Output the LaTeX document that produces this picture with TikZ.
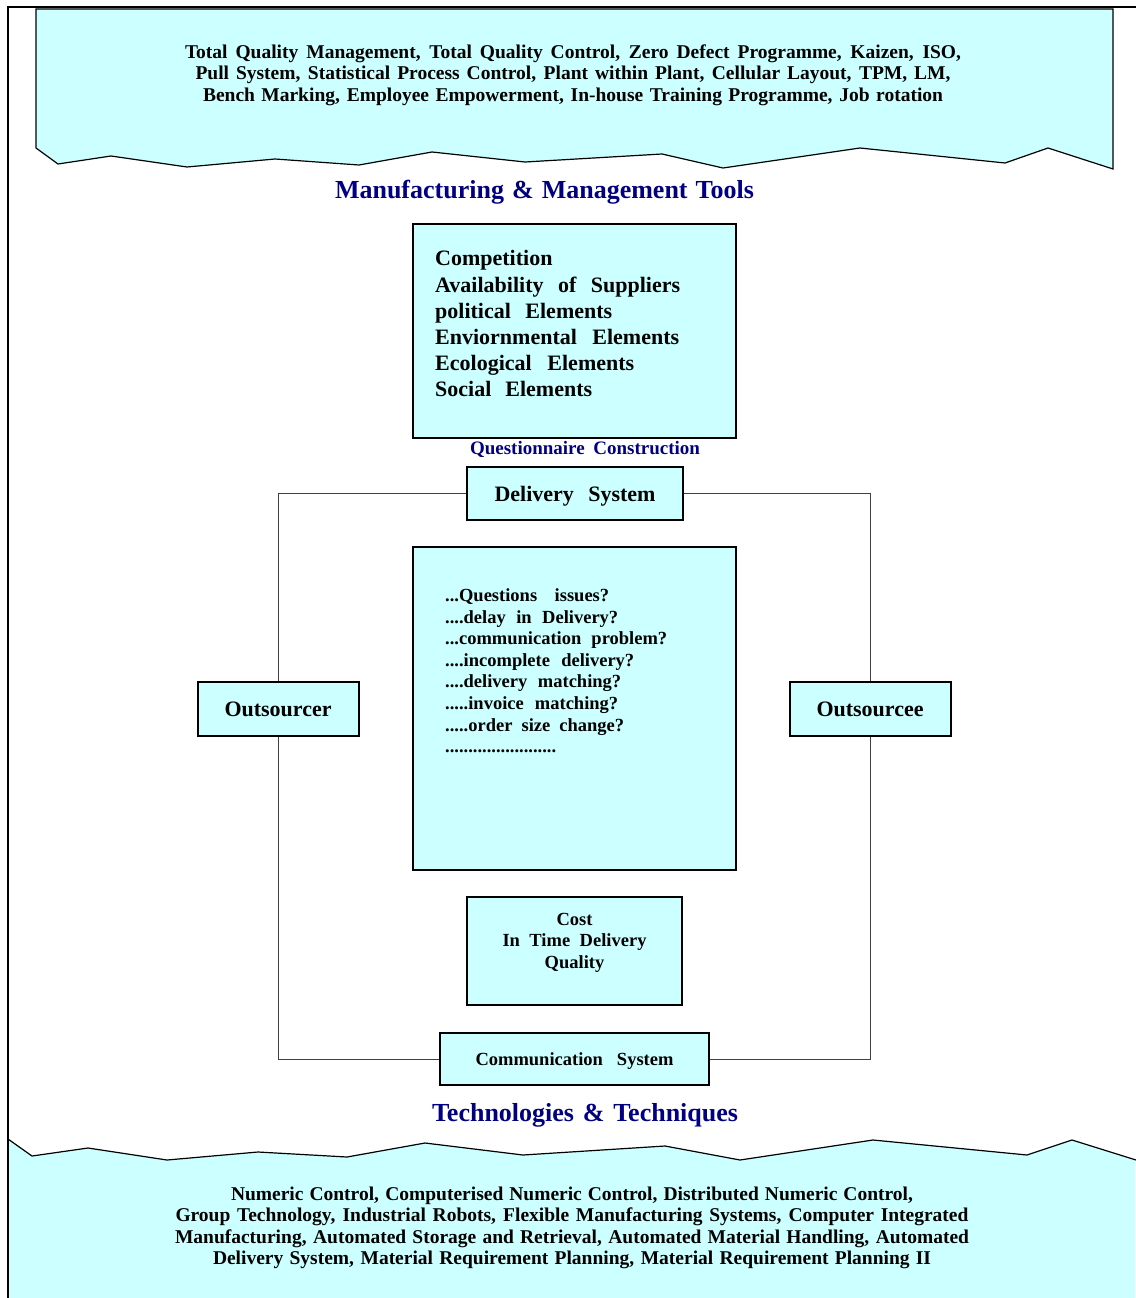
\documentclass[tikz,border=0pt]{standalone}
\usepackage{fontspec}
\setmainfont{Liberation Serif}
\definecolor{cyanfill}{HTML}{CCFFFF}
\definecolor{navy}{HTML}{000080}
\newcommand\sline[2]{\makebox[#1pt][s]{#2}}
\begin{document}
\begin{tikzpicture}[x=1pt,y=-1pt,
  box/.style={draw=black, line width=1.2pt, fill=cyanfill, inner sep=0pt},
  link/.style={draw=black!75, line width=0.9pt},
  banner/.style={fill=cyanfill},
  edge/.style={draw=black, line width=1.2pt, line join=miter},
  bantext/.style={font=\bfseries\fontsize{19.5}{21.5}\selectfont, align=center, inner sep=0pt},
  title/.style={font=\bfseries\fontsize{26}{28}\selectfont, text=navy, inner sep=0pt},
  bigtext/.style={font=\bfseries\fontsize{22}{26.2}\selectfont, inner sep=0pt},
  midtext/.style={font=\bfseries\fontsize{18.5}{21.6}\selectfont, inner sep=0pt}]
\useasboundingbox (0,0) rectangle (1135,1298);
% top banner
\path[banner,edge] (36,9) -- (1113,9) -- (1113,169) -- (1048,148) -- (1005,163) -- (860,148)
  -- (723,168) -- (662,154) -- (525,162) -- (432,152) -- (359,165) -- (275,159)
  -- (187,167) -- (111,156) -- (58,164) -- (36,148) -- cycle;
% bottom banner
\fill[banner] (8,1139) -- (32,1156) -- (88,1148) -- (167,1160) -- (258,1152) -- (347,1157)
  -- (425,1143) -- (523,1155) -- (665,1146) -- (740,1160) -- (873,1140) -- (1027,1155)
  -- (1072,1140) -- (1135,1160) -- (1135,1300) -- (8,1300) -- cycle;
\draw[edge] (8,1139) -- (32,1156) -- (88,1148) -- (167,1160) -- (258,1152) -- (347,1157)
  -- (425,1143) -- (523,1155) -- (665,1146) -- (740,1160) -- (873,1140) -- (1027,1155)
  -- (1072,1140) -- (1136,1160);
% frame
\draw[line width=2.2pt] (8,1300) -- (8,7) -- (1136,7);

% banner texts
\node[bantext] (toptext) at (573,75) {\sline{776}{Total Quality Management, Total Quality Control,  Zero Defect Programme, Kaizen, ISO,}\\
\sline{755}{Pull System, Statistical Process Control, Plant within Plant, Cellular Layout, TPM, LM,}\\
\sline{740}{Bench Marking, Employee Empowerment, In-house Training Programme, Job rotation}};
\node[bantext] (bottext) at (572,1228) {\sline{682}{Numeric Control, Computerised Numeric Control, Distributed Numeric Control,}\\
\sline{793}{Group Technology, Industrial Robots, Flexible Manufacturing Systems, Computer Integrated}\\
\sline{794}{Manufacturing, Automated Storage and Retrieval, Automated Material Handling, Automated}\\
\sline{718}{Delivery System, Material Requirement Planning, Material Requirement Planning II}};

% titles
\node[title] (mmt) at (544.5,192) {\sline{419}{Manufacturing \& Management Tools}};
\node[title] (tt) at (585,1115) {\sline{306}{Technologies \& Techniques}};
\node[title, font=\bfseries\fontsize{19}{21}\selectfont] (qc) at (585,449.5) {\sline{230}{Questionnaire Construction}};

% environment box
\node[box, minimum width=323pt, minimum height=214pt] (env) at (574.5,331) {};
\node[bigtext, anchor=north west, align=left] (envtxt) at (435,250.5) {Competition\\
\sline{245}{Availability of Suppliers}\\
\sline{177}{political Elements}\\
\sline{244}{Enviornmental Elements}\\
\sline{199}{Ecological Elements}\\
\sline{157}{Social Elements}};

% delivery system
\node[box, bigtext, minimum width=216pt, minimum height=53pt, text height=15.6pt, text depth=0pt] (del) at (575,493.5) {\sline{161}{Delivery System}};

% questions box
\node[box, minimum width=323pt, minimum height=323pt] (qbox) at (574.5,708.5) {};
\node[midtext, anchor=north west, align=left] (qtxt) at (445,588.5) {\sline{164}{...Questions issues?}\\
\sline{173}{....delay in Delivery?}\\
\sline{222}{...communication problem?}\\
\sline{189}{....incomplete delivery?}\\
\sline{176}{....delivery matching?}\\
\sline{173}{.....invoice matching?}\\
\sline{179}{.....order size change?}\\
........................};

% outsourcer / outsourcee
\node[box, bigtext, minimum width=161pt, minimum height=54pt] (osr) at (278.5,709) {\sline{108}{Outsourcer}};
\node[box, bigtext, minimum width=161pt, minimum height=54pt] (ose) at (870.5,709) {\sline{108}{Outsourcee}};

% cost box
\node[box, minimum width=215pt, minimum height=108pt] (cost) at (574.5,951) {};
\node[midtext, align=center] (costtxt) at (574.5,942.5) {Cost\\ \sline{144}{In Time Delivery}\\ Quality};

% communication system
\node[box, midtext, minimum width=269pt, minimum height=52pt, text height=12.4pt, text depth=0pt] (com) at (574.5,1059) {\sline{198}{Communication System}};

% connectors
\draw[link] (del.west) -| (osr.north);
\draw[link] (del.east) -| (ose.north);
\draw[link] (osr.south) |- (com.west);
\draw[link] (ose.south) |- (com.east);
\end{tikzpicture}
\end{document}
